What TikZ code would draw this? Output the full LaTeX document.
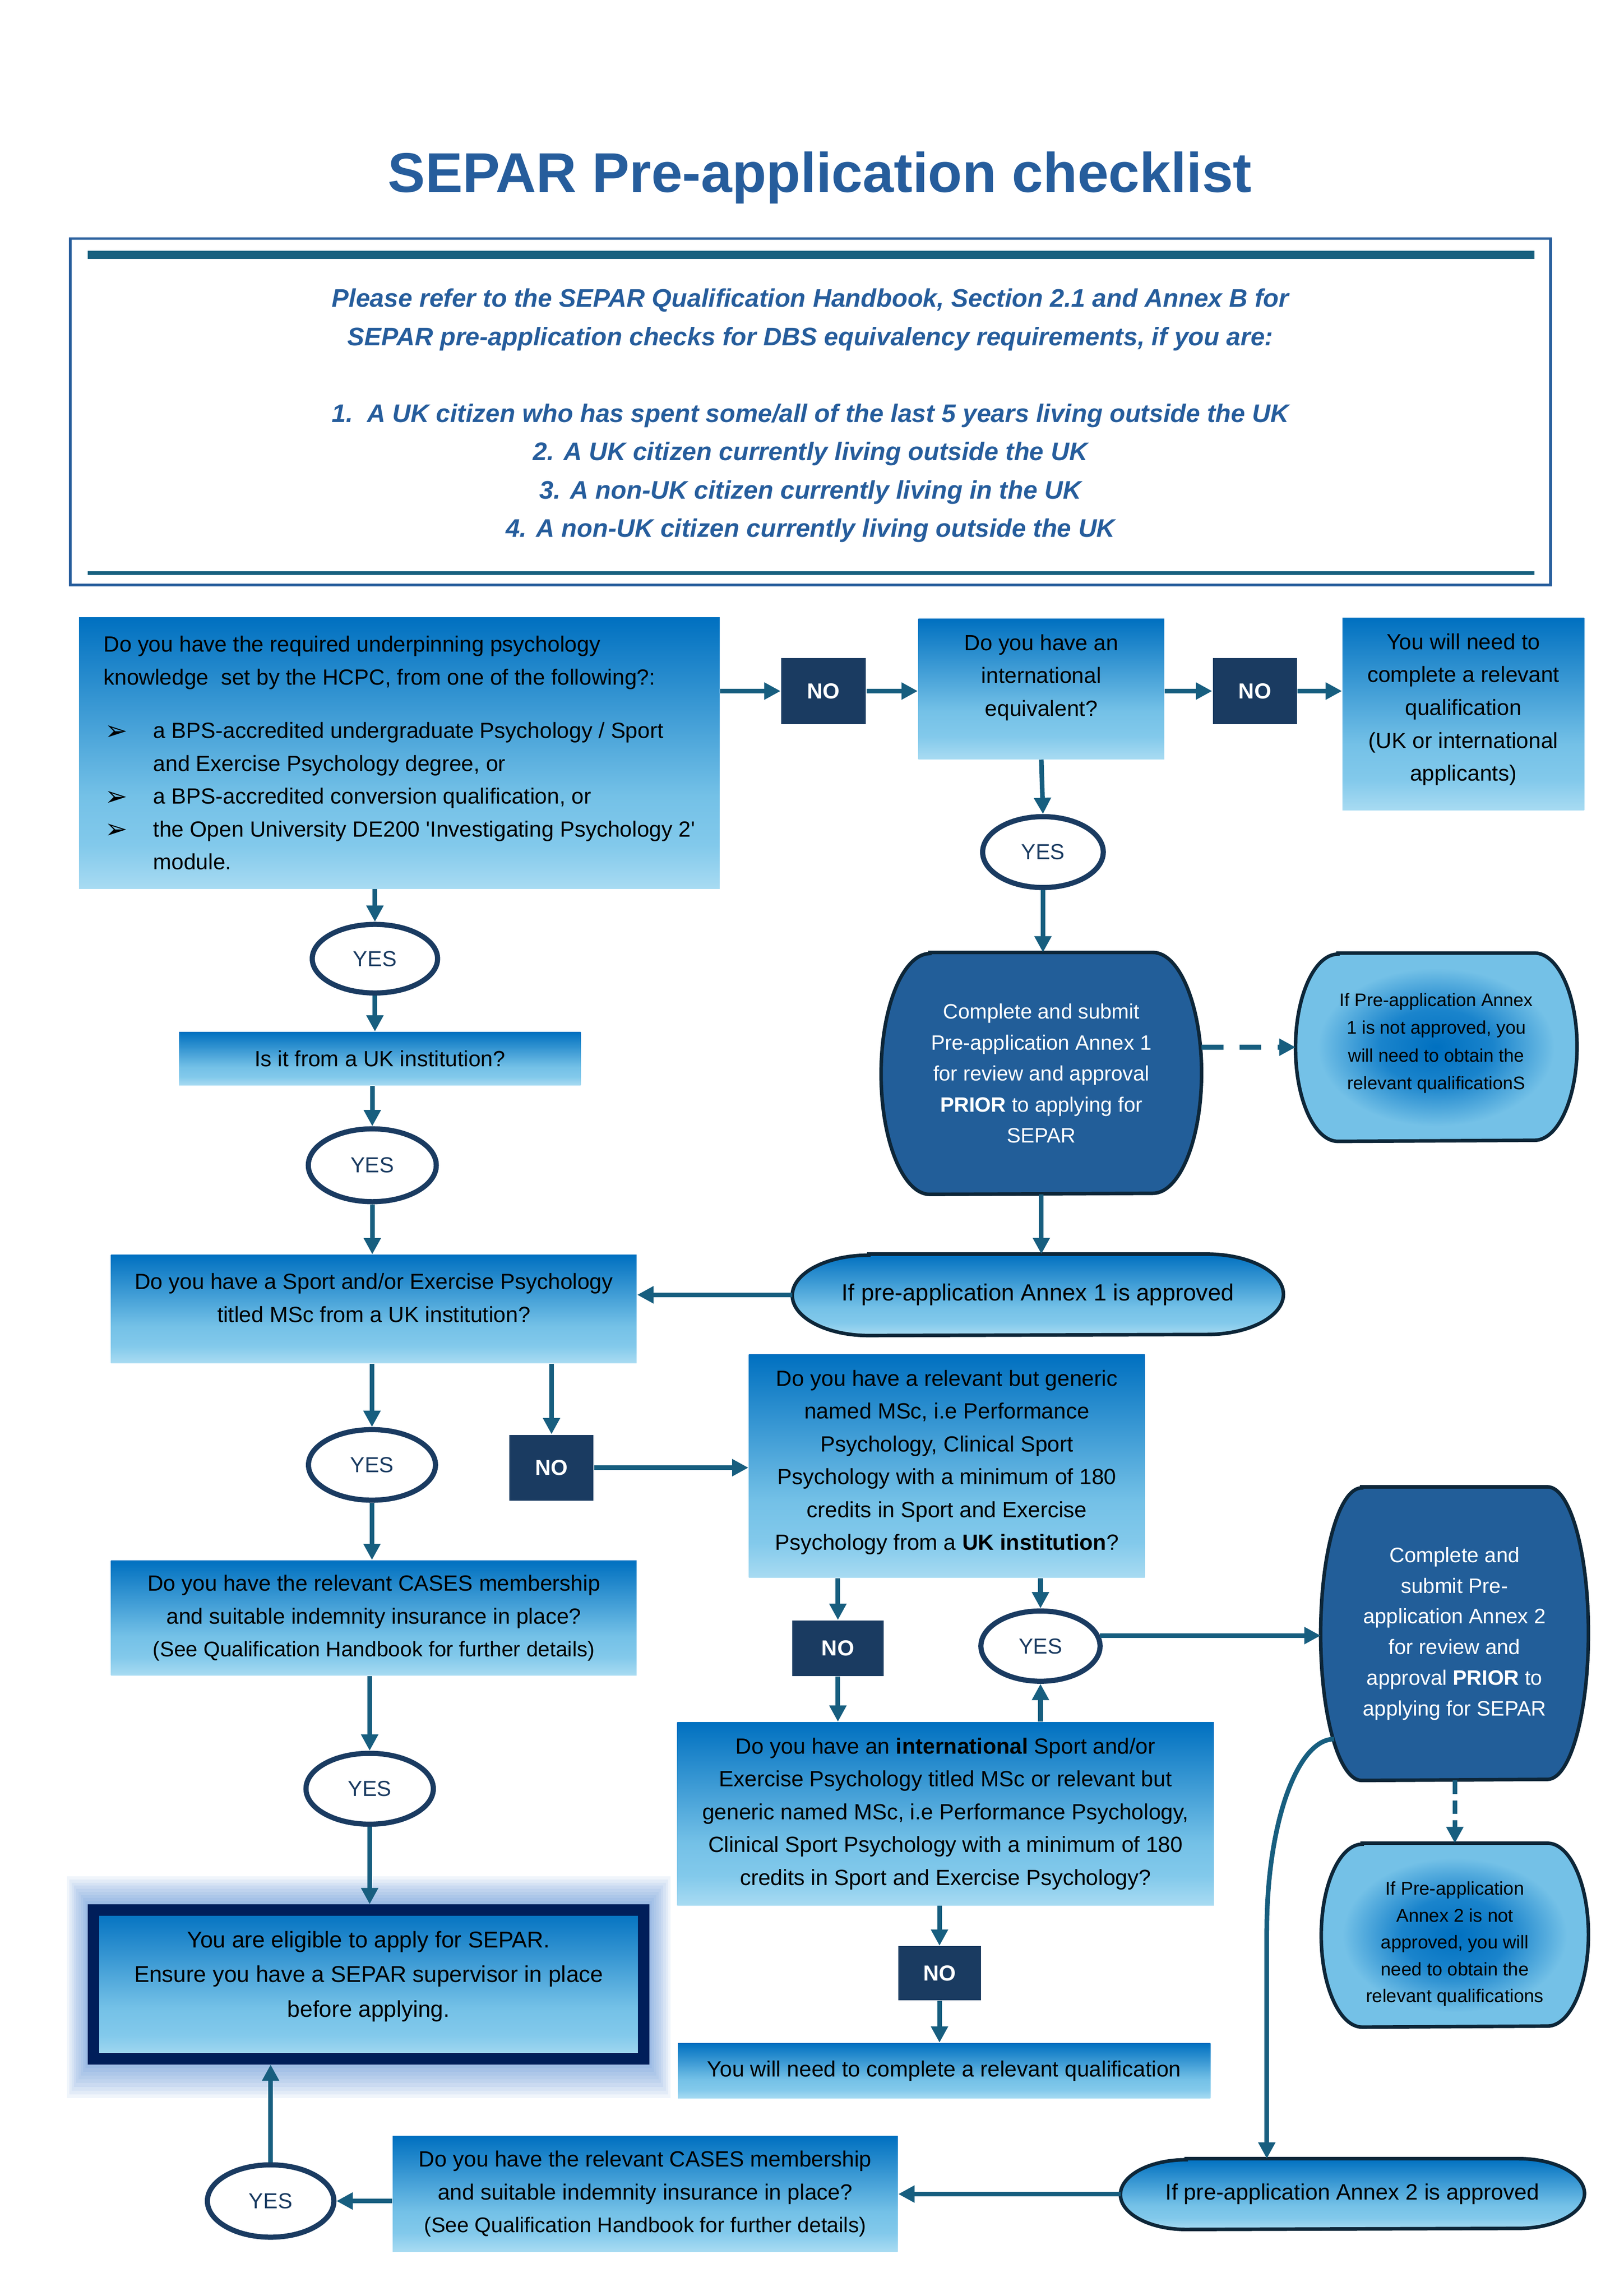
\documentclass[tikz,border=0pt]{standalone}
\usepackage{fontspec}
\setmainfont{Liberation Sans}
\newfontfamily\bulletfont{DejaVu Sans}
\usepackage{tikz}
\usetikzlibrary{arrows.meta,shapes.geometric,backgrounds}

\definecolor{arrowc}{HTML}{175E7F}
\definecolor{navyc}{HTML}{1A3B61}
\definecolor{gtop}{HTML}{0070C0}
\definecolor{gmid}{HTML}{74C1E7}
\definecolor{glt}{HTML}{82C9EB}
\definecolor{gbot}{HTML}{A8DBF2}
\definecolor{gdark}{HTML}{1A84CC}
\definecolor{annexc}{HTML}{225E99}
\definecolor{termc}{HTML}{0D2638}
\definecolor{eligc}{HTML}{001E5A}
\definecolor{glowc}{HTML}{4F86D0}
\definecolor{titlec}{HTML}{265D9C}
\definecolor{barc}{HTML}{17607F}

\pgfdeclareverticalshading{boxgrad}{100bp}{color(0bp)=(gbot); color(25bp)=(gbot); color(33bp)=(glt); color(42bp)=(gmid); color(75bp)=(gtop); color(100bp)=(gtop)}
\pgfdeclareradialshading{blobgrad}{\pgfpointorigin}{color(0bp)=(gtop); color(10bp)=(gdark); color(21bp)=(gmid); color(50bp)=(gmid)}

\newcommand{\fbody}{\fontsize{8.1}{12.1}\selectfont}
\newcommand{\fno}{\fontsize{8}{9}\selectfont\bfseries}
\newcommand{\fyes}{\fontsize{8}{9}\selectfont}
\newcommand{\ftitle}{\fontsize{20.6}{24}\selectfont\bfseries}
\newcommand{\fhead}{\fontsize{9.35}{14.1}\selectfont\bfseries\itshape}
\newcommand{\fannex}{\fontsize{7.65}{11.4}\selectfont}
\newcommand{\fannexb}{\fontsize{7.7}{11.3}\selectfont}
\newcommand{\fnot}{\fontsize{6.7}{10.2}\selectfont}
\newcommand{\fnotb}{\fontsize{6.8}{9.9}\selectfont}
\newcommand{\felig}{\fontsize{8.4}{12.7}\selectfont}
\newcommand{\fok}{\fontsize{8.6}{10}\selectfont}
\newcommand{\fokb}{\fontsize{8.2}{10}\selectfont}
\newcommand{\padb}[1]{\rule[-#1]{0pt}{#1}}
\newcommand{\bul}{\makebox[18.3pt][l]{\hspace*{0.5pt}\raisebox{-0.6pt}{\bulletfont\fontsize{10}{10}\selectfont ➢}}}
\newcommand{\ind}{\hspace*{18.3pt}}
\newcommand{\termpath}[3]{([shift={(#2,0)}]#1.north west) -- ([shift={(-#2,0)}]#1.north east) arc[start angle=-90, end angle=90, x radius=#2, y radius=#3] -- ([shift={(#2,0)}]#1.south west) arc[start angle=90, end angle=270, x radius=#2, y radius=#3] -- cycle}

\begin{document}
\begin{tikzpicture}[x=1mm, y=-1mm,
  qbox/.style={rectangle, shade, shading=boxgrad, inner sep=0pt, align=center, font=\fbody},
  nobox/.style={rectangle, fill=navyc, text=white, font=\fno, inner sep=0pt},
  yesnode/.style={ellipse, draw=navyc, line width=1.9pt, text=navyc, font=\fyes, inner sep=0pt},
  termnode/.style={rectangle, inner sep=0pt, align=center},
  termline/.style={draw=termc, line width=1.3pt},
  arr/.style={color=arrowc, line width=1.7pt, -{Triangle[length=6pt,width=6pt]}},
  dasharr/.style={arr, dash pattern=on 8pt off 6pt}]
\useasboundingbox (0,0) rectangle (210,297);

\draw[titlec, line width=0.9pt] (9.08,30.84) rectangle (200.54,75.68);
\fill[barc] (11.35,32.43) rectangle (198.46,33.49);
\fill[barc] (11.35,73.92) rectangle (198.46,74.35);
\draw (106.04,23.0) node[font=\ftitle, text=titlec] (title) {SEPAR Pre-application checklist};
\draw (104.81,53.75) node[font=\fhead, text=titlec, align=center] (note) {Please refer to the SEPAR Qualification Handbook, Section 2.1 and Annex B for\\SEPAR pre-application checks for DBS equivalency requirements, if you are:\\[14.1pt]1.\ \ A UK citizen who has spent some/all of the last 5 years living outside the UK\\2. A UK citizen currently living outside the UK\\3. A non-UK citizen currently living in the UK\\4. A non-UK citizen currently living outside the UK};

\draw (51.65,97.40) node[qbox, align=left, minimum width=82.86mm, minimum height=35.11mm] (know) {Do you have the required underpinning psychology\\knowledge\ \ set by the HCPC, from one of the following?:\\[7.5pt]\bul a BPS-accredited undergraduate Psychology / Sport\\\ind and Exercise Psychology degree, or\\\bul a BPS-accredited conversion qualification, or\\\bul the Open University DE200 \textquotesingle Investigating Psychology 2\textquotesingle\\\ind module.};
\draw (106.51,89.39) node[nobox, minimum width=10.97mm, minimum height=8.51mm] (no1) {NO};
\draw (134.68,89.11) node[qbox, minimum width=31.82mm, minimum height=18.16mm] (intl) {Do you have an\\international\\equivalent?\padb{10pt}};
\draw (162.30,89.39) node[nobox, minimum width=10.91mm, minimum height=8.51mm] (no2) {NO};
\draw (189.26,92.36) node[qbox, minimum width=31.25mm, minimum height=24.9mm] (needq) {You will need to\\complete a relevant\\qualification\\(UK or international\\applicants)\padb{5pt}};

\draw (134.89,110.22) node[yesnode, minimum width=15.6mm, minimum height=9.17mm] (yesint) {YES};
\draw (134.68,138.85) node[termnode, text=white, font=\fannex, minimum width=41.31mm, minimum height=31.16mm] (annexA) {Complete and submit\\Pre-application Annex 1\\for review and approval\\\textbf{PRIOR} to applying for\\SEPAR};
\draw (185.76,135.46) node[termnode, font=\fnot, minimum width=36.27mm, minimum height=24.22mm] (notA) {If Pre-application Annex\\1 is not approved, you\\will need to obtain the\\relevant qualificationS\padb{4.4pt}};
\draw (134.23,167.49) node[termnode, font=\fok, minimum width=63.38mm, minimum height=10.4mm] (okA) {If pre-application Annex 1 is approved};

\draw (48.49,124.01) node[yesnode, minimum width=16.21mm, minimum height=8.87mm] (yes1) {YES};
\draw (49.13,136.96) node[qbox, minimum width=51.95mm, minimum height=6.91mm] (ukinst) {Is it from a UK institution?};
\draw (48.15,150.73) node[yesnode, minimum width=16.55mm, minimum height=9.42mm] (yes2) {YES};
\draw (48.35,169.32) node[qbox, minimum width=67.98mm, minimum height=13.99mm] (sportmsc) {Do you have a Sport and/or Exercise Psychology\\titled MSc from a UK institution?\padb{8.2pt}};
\draw (48.11,189.49) node[yesnode, minimum width=16.43mm, minimum height=9.13mm] (yes3) {YES};
\draw (71.33,189.85) node[nobox, minimum width=10.88mm, minimum height=8.51mm] (no3) {NO};
\draw (48.35,209.29) node[qbox, minimum width=67.98mm, minimum height=14.85mm] (casesA) {Do you have the relevant CASES membership\\and suitable indemnity insurance in place?\\{\fontsize{7.8}{12.1}\selectfont(See Qualification Handbook for further details)}};
\draw (47.81,231.38) node[yesnode, minimum width=16.47mm, minimum height=9.17mm] (yes5) {YES};
\foreach \g in {1,...,9}
  \fill[glowc, opacity=0.085] (11.35-0.3*\g,246.32-0.4*\g) rectangle (84.0+0.3*\g,267.06+0.48*\g);
\draw (47.68,256.69) node[qbox, draw=eligc, line width=4.2pt, font=\felig, minimum width=71.17mm, minimum height=19.26mm] (elig) {You are eligible to apply for SEPAR.\\Ensure you have a SEPAR supervisor in place\\before applying.\padb{7.6pt}};
\draw (35.00,284.71) node[yesnode, minimum width=16.36mm, minimum height=9.36mm] (yes6) {YES};
\draw (83.44,283.78) node[qbox, minimum width=65.33mm, minimum height=14.91mm] (casesB) {Do you have the relevant CASES membership\\and suitable indemnity insurance in place?\\{\fontsize{7.8}{12.1}\selectfont(See Qualification Handbook for further details)}};

\draw (122.46,189.64) node[qbox, minimum width=51.19mm, minimum height=28.89mm] (generic) {Do you have a relevant but generic\\named MSc, i.e Performance\\Psychology, Clinical Sport\\Psychology with a minimum of 180\\credits in Sport and Exercise\\Psychology from a \textbf{UK institution}?\padb{4.4pt}};
\draw (108.37,213.21) node[nobox, minimum width=11.8mm, minimum height=7.17mm] (no4) {NO};
\draw (134.57,212.93) node[yesnode, minimum width=15.41mm, minimum height=9.09mm] (yes4) {YES};
\draw (122.29,234.62) node[qbox, minimum width=69.39mm, minimum height=23.67mm] (intmsc) {Do you have an \textbf{international} Sport and/or\\Exercise Psychology titled MSc or relevant but\\generic named MSc, i.e Performance Psychology,\\Clinical Sport Psychology with a minimum of 180\\credits in Sport and Exercise Psychology?};
\draw (121.51,255.25) node[nobox, minimum width=10.69mm, minimum height=6.98mm] (no5) {NO};
\draw (122.11,267.87) node[qbox, minimum width=68.85mm, minimum height=7.15mm] (needq2) {You will need to complete a relevant qualification};

\draw (188.12,211.32) node[termnode, text=white, font=\fannexb, minimum width=34.49mm, minimum height=37.84mm] (annexB) {Complete and\\submit Pre-\\application Annex 2\\for review and\\approval \textbf{PRIOR} to\\applying for SEPAR};
\draw (188.16,250.32) node[termnode, font=\fnotb, minimum width=34.42mm, minimum height=23.65mm] (notB) {\rule{0pt}{11.4pt}If Pre-application\\Annex 2 is not\\approved, you will\\need to obtain the\\relevant qualifications};
\draw (174.92,283.81) node[termnode, font=\fokb, minimum width=59.88mm, minimum height=9.02mm] (okB) {If pre-application Annex 2 is approved};
\coordinate (bend) at (163.84,249.73);

\begin{scope}[on background layer]
\filldraw[termline, fill=annexc] \termpath{annexA}{6.32}{15.58};
\filldraw[termline, fill=annexc] \termpath{annexB}{5.3}{18.92};
\shadedraw[termline, shading=blobgrad] \termpath{notA}{5.49}{12.11};
\shadedraw[termline, shading=blobgrad] \termpath{notB}{5.3}{11.83};
\shadedraw[termline, shading=boxgrad] \termpath{okA}{9.9}{5.2};
\shadedraw[termline, shading=boxgrad] \termpath{okB}{8.5}{4.51};
\end{scope}

\path[arr] (no1.west -| know.east) edge (no1.west);
\path[arr] (no1.east) edge (no1.east -| intl.west);
\path[arr] (no2.west -| intl.east) edge (no2.west);
\path[arr] (no2.east) edge (no2.east -| needq.west);
\path[arr] (intl.south) edge (yesint.north);
\path[arr] (yesint.south) edge (yesint.south |- annexA.north);
\path[dasharr] (notA.west -| annexA.east) edge (notA.west);
\path[arr] (annexA.south) edge (annexA.south |- okA.north);
\path[arr] (okA.west) edge (okA.west -| sportmsc.east);
\path[arr] (yes1.north |- know.south) edge (yes1.north);
\path[arr] (yes1.south) edge (yes1.south |- ukinst.north);
\path[arr] (yes2.north |- ukinst.south) edge (yes2.north);
\path[arr] (yes2.south) edge (yes2.south |- sportmsc.north);
\path[arr] (yes3.north |- sportmsc.south) edge (yes3.north);
\path[arr] (no3.north |- sportmsc.south) edge (no3.north);
\path[arr] (no3.east) edge (no3.east -| generic.west);
\path[arr] (yes3.south) edge (yes3.south |- casesA.north);
\path[arr] (yes5.north |- casesA.south) edge (yes5.north);
\path[arr] (yes5.south) edge (yes5.south |- elig.north);
\path[arr] (no4.north |- generic.south) edge (no4.north);
\path[arr] (yes4.north |- generic.south) edge (yes4.north);
\path[arr] (no4.south) edge (no4.south |- intmsc.north);
\path[arr] (yes4.south |- intmsc.north) edge (yes4.south);
\path[arr] (no5.north |- intmsc.south) edge (no5.north);
\path[arr] (no5.south) edge (no5.south |- needq2.north);
\path[arr] (yes4.10) edge (yes4.10 -| annexB.west);
\path[dasharr, dash pattern=on 5pt off 2.3pt] (notB.north |- annexB.south) edge (notB.north);
\draw[color=arrowc, line width=1.7pt] ([shift={(1.74,-5.35)}]annexB.south west) .. controls (167.73,224.95) and (163.84,236.05) .. (bend);
\path[arr] (bend) edge (bend |- okB.north);
\path[arr] (okB.west) edge (okB.west -| casesB.east);
\path[arr] (yes6.east -| casesB.west) edge (yes6.east);
\path[arr] (yes6.north) edge (yes6.north |- elig.south);

\end{tikzpicture}
\end{document}
